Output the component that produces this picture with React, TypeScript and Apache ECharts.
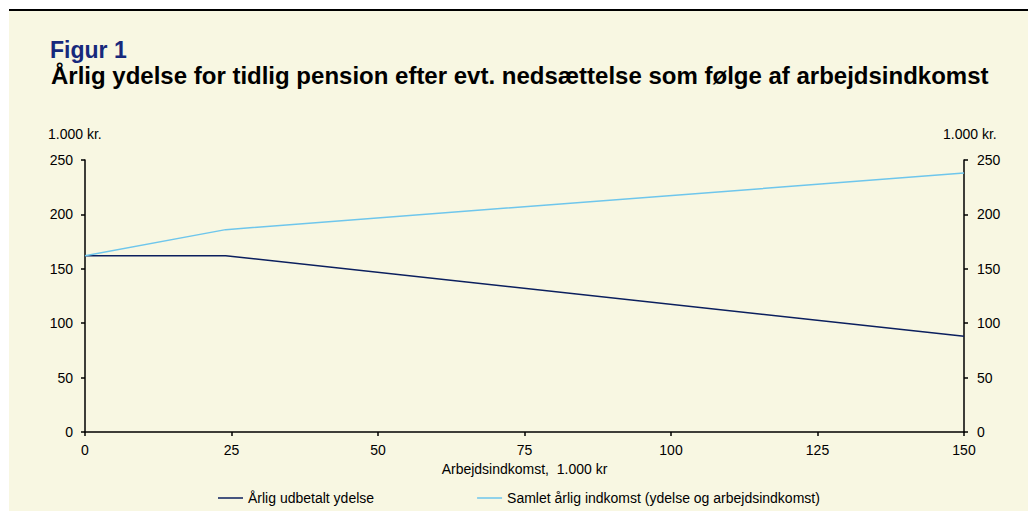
import React, { useEffect, useRef } from "react";
import * as echarts from "echarts";

const xValues = [0, 24, 150];
const ydelse = [162, 162, 88];
const samlet = [162, 186, 238];
const seriesNames = ["Årlig udbetalt ydelse", "Samlet årlig indkomst (ydelse og arbejdsindkomst)"];
const titleLine1 = "Figur 1";
const titleLine2 = "Årlig ydelse for tidlig pension efter evt. nedsættelse som følge af arbejdsindkomst";
const yUnit = "1.000 kr.";
const xName = "Arbejdsindkomst,  1.000 kr";

const FONT = "'Liberation Sans', Arial, sans-serif";
const CREAM = "#F8F7E2";
const FS = 14;

export default function App() {
  const ref = useRef<HTMLDivElement>(null);
  useEffect(() => {
    if (!ref.current) return;
    const chart = echarts.init(ref.current, undefined, { renderer: "svg" });
    const axisCommon = {
      type: "value",
      min: 0,
      max: 250,
      interval: 50,
      splitLine: { show: false },
      axisLine: { show: true, lineStyle: { color: "#000", width: 1.5 } },
      axisTick: { show: true, inside: false, length: 4, lineStyle: { color: "#000", width: 1.5 } },
      axisLabel: { color: "#000", fontFamily: FONT, fontSize: FS, margin: 12 },
    };
    chart.setOption({
      animation: false,
      backgroundColor: "#fff",
      textStyle: { fontFamily: FONT },
      graphic: [
        { type: "rect", shape: { x: 9, y: 11, width: 1019, height: 500 }, style: { fill: CREAM }, z: -10 },
        { type: "line", shape: { x1: 9, y1: 10, x2: 1028, y2: 10 }, style: { stroke: "#000", lineWidth: 2 } },
        { type: "text", x: 50, y: 38, style: { text: titleLine1, fill: "#17297C", font: `bold 23px ${FONT}` } },
        { type: "text", x: 51, y: 63, style: { text: titleLine2, fill: "#000", font: `bold 24px ${FONT}` } },
        { type: "text", x: 48, y: 127, style: { text: yUnit, fill: "#000", font: `${FS}px ${FONT}` } },
        { type: "text", x: 943, y: 127, style: { text: yUnit, fill: "#000", font: `${FS}px ${FONT}` } },
      ],
      grid: { left: 85, right: 64, top: 160, bottom: 79, containLabel: false },
      legend: {
        left: 213,
        top: 486,
        icon: "rect",
        itemWidth: 25,
        itemHeight: 1.5,
        itemGap: 103,
        textStyle: { color: "#000", fontFamily: FONT, fontSize: FS },
        data: seriesNames,
      },
      xAxis: {
        type: "value",
        min: 0,
        max: 150,
        interval: 25,
        name: xName,
        nameLocation: "middle",
        nameGap: 25,
        nameTextStyle: { color: "#000", fontFamily: FONT, fontSize: FS },
        splitLine: { show: false },
        axisLine: { show: true, onZero: false, lineStyle: { color: "#000", width: 1.5 } },
        axisTick: { show: true, length: 4, lineStyle: { color: "#000", width: 1.5 } },
        axisLabel: { color: "#000", fontFamily: FONT, fontSize: FS, margin: 11 },
      },
      yAxis: [
        { ...axisCommon, position: "left" },
        { ...axisCommon, position: "right", axisLabel: { ...axisCommon.axisLabel, margin: 13 } },
      ],
      series: [
        {
          name: seriesNames[0],
          type: "line",
          data: xValues.map((x, i) => [x, ydelse[i]]),
          showSymbol: false,
          symbol: "none",
          lineStyle: { color: "#0B1F5E", width: 1.5 },
          itemStyle: { color: "#0B1F5E" },
        },
        {
          name: seriesNames[1],
          type: "line",
          data: xValues.map((x, i) => [x, samlet[i]]),
          showSymbol: false,
          symbol: "none",
          lineStyle: { color: "#6EC6EC", width: 1.5 },
          itemStyle: { color: "#6EC6EC" },
        },
      ],
    });
    return () => chart.dispose();
  }, []);
  return <div ref={ref} style={{ position: "fixed", left: 0, top: 0, width: 1028, height: 511 }} />;
}
